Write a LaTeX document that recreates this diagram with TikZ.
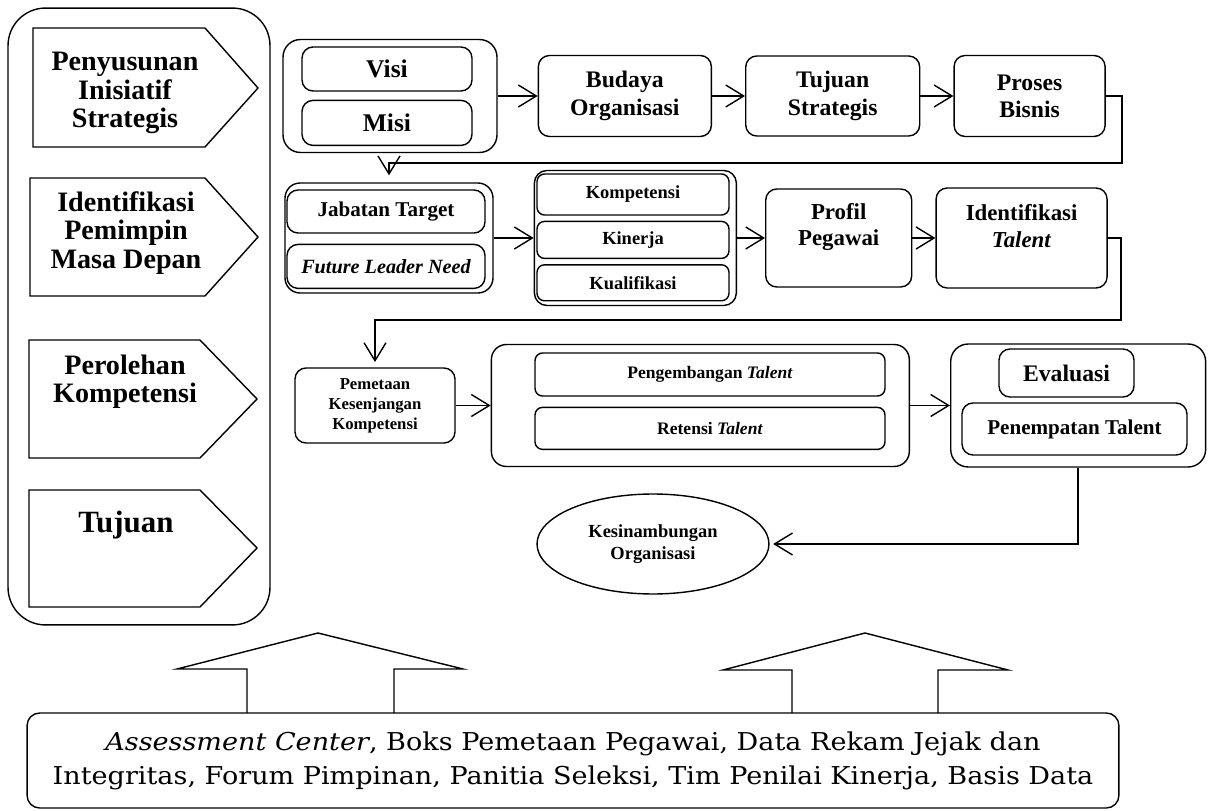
\documentclass[tikz,border=0pt]{standalone}
\usepackage{fontspec}
\setmainfont{Liberation Serif}
\newfontfamily\plainserif[FakeStretch=1.1]{DejaVu Serif}
\usetikzlibrary{arrows.meta,positioning,shapes.geometric}

\begin{document}
\begin{tikzpicture}[x=0.02cm,y=-0.02cm,line width=0.8pt]
  \tikzset{>={Straight Barb[length=3.6mm,width=4.4mm]}}
  \tikzset{
    box/.style={draw, rounded corners=0.22cm, align=center, inner sep=0pt},
    group/.style={draw, rounded corners=0.35cm, inner sep=0pt},
    tag/.style={align=center, font=\bfseries\fontsize{16}{16}\selectfont},
    flow/.style={->}
  }
  \useasboundingbox (0,0) rectangle (1208,811);
  % Left column with the four stages
  \node[group, rounded corners=0.75cm, minimum width=5.24cm, minimum height=12.34cm] (stages) at (139,316.5) {};
  \draw (33,28) -- (205,28) -- (258,88) -- (205,147) -- (33,147) -- cycle;
  \node[tag] (penyusunan) at (125,93) {Penyusunan\\Inisiatif\\Strategis};
  \draw (30,178) -- (205,178) -- (258,237) -- (205,296) -- (30,296) -- cycle;
  \node[tag] (identifikasi-pemimpin) at (126,233) {Identifikasi\\Pemimpin\\Masa Depan};
  \draw (29,340) -- (200,340) -- (257,399) -- (200,458) -- (29,458) -- cycle;
  \node[tag] (perolehan) at (125,382) {Perolehan\\Kompetensi};
  \draw (29,490) -- (200,490) -- (257,548) -- (200,607) -- (29,607) -- cycle;
  \node[tag, font=\bfseries\fontsize{17.6}{18}\selectfont] (tujuan) at (126,525) {Tujuan};
  % First row
  \node[group, minimum width=4.28cm, minimum height=2.26cm] (visi-misi) at (390,96) {};
  \node[box, minimum width=3.4cm, minimum height=0.88cm, font=\bfseries\fontsize{14.5}{15}\selectfont] (visi) at (387,69) {Visi};
  \node[box, minimum width=3.4cm, minimum height=0.9cm, font=\bfseries\fontsize{14.5}{15}\selectfont, below=0.16cm of visi] (misi) {Misi};
  \node[box, minimum width=3.46cm, minimum height=1.62cm, font=\bfseries\fontsize{13.5}{15.5}\selectfont, right=0.8cm of visi-misi] (budaya) {Budaya\\Organisasi};
  \node[box, minimum width=3.48cm, minimum height=1.6cm, font=\bfseries\fontsize{13.5}{15.5}\selectfont, right=0.66cm of budaya] (tujuan-strategis) {Tujuan\\Strategis};
  \node[box, minimum width=3.02cm, minimum height=1.62cm, font=\bfseries\fontsize{13.5}{15.5}\selectfont, right=0.66cm of tujuan-strategis] (proses) {Proses\\Bisnis};
  % Second row
  \node[group, rounded corners=0.3cm, minimum width=4.16cm, minimum height=2.2cm] (jabatan) at (389,238) {};
  \node[box, minimum width=3.96cm, minimum height=0.86cm, font=\bfseries\fontsize{12}{13}\selectfont] (jabatan-target) at (386,211.5) {Jabatan Target};
  \node[box, minimum width=3.96cm, minimum height=0.88cm, font=\bfseries\itshape\fontsize{11.5}{13}\selectfont, below=0.2cm of jabatan-target] (leader-need) {Future Leader Need};
  \node[group, rounded corners=0.25cm, minimum width=4.04cm, minimum height=2.7cm, right=0.8cm of jabatan] (kriteria) {};
  \node[box, rounded corners=0.15cm, minimum width=3.84cm, minimum height=0.82cm, font=\bfseries\fontsize{10.5}{12}\selectfont] (kompetensi) at (633,194.5) {Kompetensi};
  \node[box, rounded corners=0.15cm, minimum width=3.84cm, minimum height=0.74cm, font=\bfseries\fontsize{10.5}{12}\selectfont, below=0.1cm of kompetensi] (kinerja) {Kinerja};
  \node[box, rounded corners=0.15cm, minimum width=3.84cm, minimum height=0.72cm, font=\bfseries\fontsize{10.5}{12}\selectfont, below=0.1cm of kinerja] (kualifikasi) {Kualifikasi};
  \node[box, minimum width=2.92cm, minimum height=1.96cm, right=0.56cm of kriteria] (profil) {};
  \node[align=center, font=\bfseries\fontsize{13}{15.3}\selectfont] (profil-text) at ([yshift=0.22cm]profil.center) {Profil\\Pegawai};
  \node[box, minimum width=3.42cm, minimum height=2.0cm, right=0.46cm of profil] (talent-id) {};
  \node[align=center, font=\bfseries\fontsize{13}{15.3}\selectfont] (talent-id-text) at ([yshift=0.24cm]talent-id.center) {Identifikasi\\\textit{Talent}};
  % Third row
  \node[box, minimum width=3.2cm, minimum height=1.5cm, font=\bfseries\fontsize{9.5}{11.4}\selectfont] (pemetaan) at (375,405.5) {Pemetaan\\Kesenjangan\\Kompetensi};
  \node[group, rounded corners=0.3cm, minimum width=8.36cm, minimum height=2.44cm, right=0.7cm of pemetaan] (talent) {};
  \node[box, rounded corners=0.15cm, minimum width=7.0cm, minimum height=0.86cm, font=\bfseries\fontsize{10}{12}\selectfont] (pengembangan) at (710,374.5) {Pengembangan \textit{Talent}};
  \node[box, rounded corners=0.15cm, minimum width=7.0cm, minimum height=0.84cm, font=\bfseries\fontsize{10}{12}\selectfont, below=0.2cm of pengembangan] (retensi) {Retensi \textit{Talent}};
  \node[group, minimum width=5.1cm, minimum height=2.46cm, right=0.8cm of talent] (penilaian) {};
  \node[box, minimum width=2.7cm, minimum height=0.96cm, font=\bfseries\fontsize{13.5}{15}\selectfont] (evaluasi) at (1066.5,373) {Evaluasi};
  \node[box, minimum width=4.5cm, minimum height=1.04cm, font=\bfseries\fontsize{12}{14}\selectfont] (penempatan) at (1074.5,429) {Penempatan Talent};
  \node[draw, ellipse, inner sep=0pt, minimum width=4.64cm, minimum height=2.0cm, align=center, font=\bfseries\fontsize{10.5}{12.5}\selectfont] (kesinambungan) at (653,544) {Kesinambungan\\Organisasi};
  % Supporting instruments
  \node[draw, rounded corners=0.25cm, minimum width=21.84cm, minimum height=1.9cm, inner sep=0pt, align=center, font=\plainserif\fontsize{14}{19.3}\selectfont] (instrumen) at (573,760.5) {\textit{Assessment Center}, Boks Pemetaan Pegawai, Data Rekam Jejak dan\\Integritas, Forum Pimpinan, Panitia Seleksi, Tim Penilai Kinerja, Basis Data};
  \draw (247,713) -- (247,669) -- (177,669) -- (318,633) -- (463,669) -- (394,669) -- (394,713);
  \draw (792,713) -- (792,670) -- (723,670) -- (865,633) -- (1008,670) -- (938,670) -- (938,713);
  % Connectors
  \coordinate (bend-a) at (1122,163);
  \coordinate (bend-b) at (1121,320);
  \draw[flow] (visi-misi) -- (budaya);
  \draw[flow] (budaya) -- (tujuan-strategis);
  \draw[flow] (tujuan-strategis) -- (proses);
  \draw[flow, shorten >=4pt] (proses.east) -| (bend-a) -| (jabatan.north);
  \draw[flow] (jabatan) -- (kriteria);
  \draw[flow] (kriteria) -- (profil);
  \draw[flow] (profil) -- (talent-id);
  \draw[flow, shorten >=3pt] (talent-id.east) -| (bend-b) -| (pemetaan.north);
  \draw[flow] (pemetaan) -- (talent);
  \draw[flow] (talent) -- (penilaian);
  \draw[flow, shorten >=2pt] (penilaian.south) |- (kesinambungan.east);
\end{tikzpicture}
\end{document}
